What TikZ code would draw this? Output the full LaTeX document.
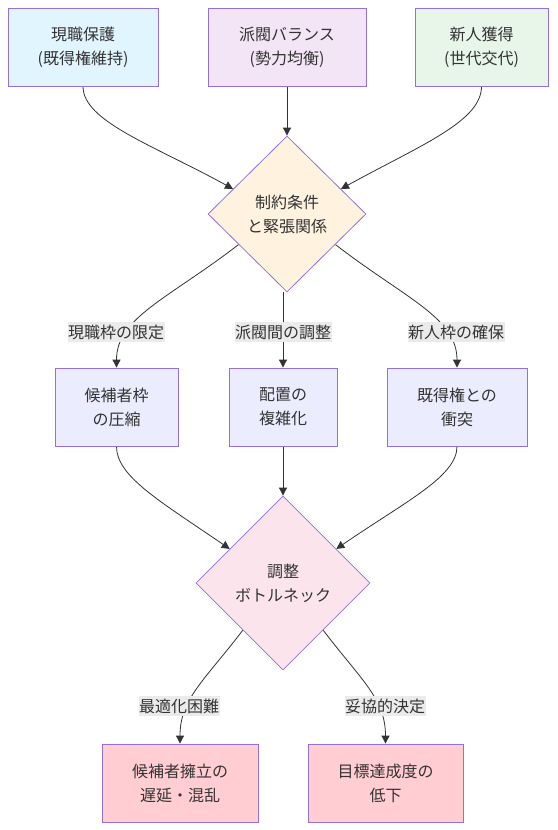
\documentclass[tikz,border=0pt]{standalone}
\usepackage{fontspec}
\setmainfont{Noto Sans CJK JP}
\usetikzlibrary{shapes.geometric,calc,arrows.meta,backgrounds}

\definecolor{bordr}{HTML}{9370DB}
\definecolor{txt}{HTML}{333333}
\definecolor{protectfill}{HTML}{E1F5FE}
\definecolor{factionfill}{HTML}{F3E5F5}
\definecolor{newfill}{HTML}{E8F5E9}
\definecolor{limitfill}{HTML}{FFF3E0}
\definecolor{effectfill}{HTML}{ECECFF}
\definecolor{neckfill}{HTML}{FCE4EC}
\definecolor{resultfill}{HTML}{FFCDD2}
\definecolor{labelbg}{HTML}{EBEBEB}

\tikzset{
	box/.style={draw=bordr, line width=0.8pt, rectangle, inner sep=0pt, minimum height=78pt, align=center, text=txt, font=\fontsize{16}{24}\selectfont},
	decision/.style={draw=bordr, line width=0.8pt, diamond, inner sep=0pt, align=center, text=txt, font=\fontsize{16}{24}\selectfont},
	edgelabel/.style={fill=labelbg, inner xsep=0.5pt, inner ysep=3pt, text=txt, font=\fontsize{16}{20}\selectfont},
	flow/.style={draw=txt, line width=0.8pt, -{Triangle[length=8pt,width=8pt]}}
}

\begin{document}
\begin{tikzpicture}[x=1pt,y=-1pt]
		\useasboundingbox (0,0) rectangle (557,830);

		\node[box, fill=protectfill, minimum width=150pt] (protect) at (83,47) {現職保護\\(既得権維持)};
		\node[box, fill=factionfill, minimum width=158pt] (faction) at (287,47) {派閥バランス\\(勢力均衡)};
		\node[box, fill=newfill, minimum width=133pt] (newcomer) at (481.5,47) {新人獲得\\(世代交代)};

		\node[decision, fill=limitfill, minimum width=158pt, minimum height=156pt] (limits) at (287,214) {制約条件\\と緊張関係};

			\node[box, fill=effectfill, minimum width=123pt] (squeeze) at (116.5,407) {候補者枠\\の圧縮};
			\node[box, fill=effectfill, minimum width=108pt] (placing) at (283,407) {配置の\\複雑化};
			\node[box, fill=effectfill, minimum width=140pt] (clash) at (457,407) {既得権との\\衝突};

				\node[edgelabel] (lseat) at (116,332) {現職枠の限定};
				\node[edgelabel] (lfaction) at (283,332) {派閥間の調整};
				\node[edgelabel] (lnew) at (456,332) {新人枠の確保};

		\node[decision, fill=neckfill, minimum width=174pt, minimum height=174pt] (bottleneck) at (283,583) {調整\\ボトルネック};

			\node[box, fill=resultfill, minimum width=156pt] (delay) at (180,783) {候補者擁立の\\遅延・混乱};
			\node[box, fill=resultfill, minimum width=155pt] (lower) at (385.5,783) {目標達成度の\\低下};

				\node[edgelabel] (lhard) at (179,706) {最適化困難};
				\node[edgelabel] (lcompromise) at (385,706) {妥協的決定};

		\begin{scope}[on background layer]
			\draw[flow] (protect.south) .. controls +(0,35) and +(-80,-44) .. ($(limits.west)!0.32!(limits.north)$);
			\draw[flow] (faction.south) -- (limits.north);
			\draw[flow] (newcomer.south) .. controls +(0,35) and +(80,-44) .. ($(limits.east)!0.32!(limits.north)$);

			\draw[flow] ($(limits.west)!0.39!(limits.south)$) .. controls +(-70,54) and +(0,-50) .. (squeeze.north);
			\draw[flow] (placing.north |- limits.south) -- (placing.north);
			\draw[flow] ($(limits.east)!0.39!(limits.south)$) .. controls +(70,54) and +(0,-50) .. (clash.north);

			\draw[flow] (squeeze.south) .. controls +(0,30) and +(-70,-48) .. ($(bottleneck.west)!0.39!(bottleneck.north)$);
			\draw[flow] (placing.south) -- (bottleneck.north);
			\draw[flow] (clash.south) .. controls +(0,30) and +(70,-48) .. ($(bottleneck.east)!0.39!(bottleneck.north)$);

			\draw[flow] ($(bottleneck.west)!0.54!(bottleneck.south)$) .. controls +(-38,50) and +(0,-45) .. (delay.north);
			\draw[flow] ($(bottleneck.east)!0.54!(bottleneck.south)$) .. controls +(38,50) and +(0,-45) .. (lower.north);
		\end{scope}

	\end{tikzpicture}
\end{document}
